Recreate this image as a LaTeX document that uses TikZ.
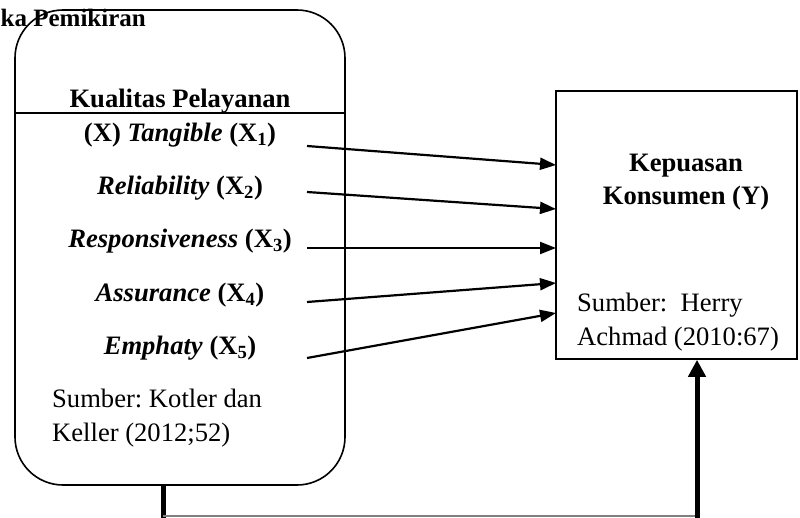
\documentclass[tikz,border=0pt]{standalone}
\usepackage{fontspec}
\setmainfont{Liberation Serif}
\usetikzlibrary{arrows.meta}
\frenchspacing
\begin{document}
\begin{tikzpicture}[x=1pt,y=-1pt,
  txt/.style={inner sep=0pt, font=\fontsize{26.6}{32}\selectfont},
  btxt/.style={txt, font=\fontsize{26.6}{32}\selectfont\bfseries},
  arr/.style={line width=2.2pt, -{Triangle[length=16pt,width=12pt]}},
  heavy/.style={line width=5pt},
  boxline/.style={draw, line width=1.6pt}]
\useasboundingbox (0,0) rectangle (800,518);
% left rounded box
\node[boxline, rounded corners=48pt, minimum width=330pt, minimum height=475pt, inner sep=0pt] (kq) at (180,247.5) {};
\draw[line width=1.6pt] (kq.west |- 0,113) -- (kq.east |- 0,113);
% right box
\node[boxline, minimum width=241pt, minimum height=268pt, inner sep=0pt] (ky) at (676.5,225) {};
% title
\node[btxt, anchor=base west, font=\fontsize{25}{30}\selectfont\bfseries] (title) at (0.5,27) {ka Pemikiran};
% left texts
\node[btxt, anchor=base] (hd) at (180,108) {Kualitas Pelayanan};
\node[btxt, anchor=base] (x1) at (180,142) {(X) \textit{Tangible} (X\textsubscript{1})};
\node[btxt, anchor=base] (x2) at (180,195) {\textit{Reliability} (X\textsubscript{2})};
\node[btxt, anchor=base] (x3) at (180,248) {\textit{Responsiveness} (X\textsubscript{3})};
\node[btxt, anchor=base] (x4) at (180,302) {\textit{Assurance} (X\textsubscript{4})};
\node[btxt, anchor=base] (x5) at (180,355) {\textit{Emphaty} (X\textsubscript{5})};
\node[txt, anchor=base west] (s1) at (52,407) {Sumber: Kotler dan};
\node[txt, anchor=base west] (s2) at (52,441) {Keller (2012;52)};
% right texts
\node[btxt, anchor=base] (y1) at (686,172) {Kepuasan};
\node[btxt, anchor=base] (y2) at (686,205) {Konsumen (Y)};
\node[txt, anchor=base west] (r1) at (577,312) {Sumber:\ \ Herry};
\node[txt, anchor=base west] (r2) at (577,345) {Achmad (2010:67)};
% arrow coordinates
\coordinate (a1) at (307,146);
\coordinate (a2) at (307,192);
\coordinate (a3) at (307,248);
\coordinate (a4) at (307,302);
\coordinate (a5) at (307,358);
\coordinate (e1) at (556,165);
\coordinate (e2) at (556,209);
\coordinate (e3) at (556,248);
\coordinate (e4) at (556,283);
\coordinate (e5) at (556,313);
\draw[arr] (a1) -- (e1);
\draw[arr] (a2) -- (e2);
\draw[arr] (a3) -- (e3);
\draw[arr] (a4) -- (e4);
\draw[arr] (a5) -- (e5);
% bottom connector
\coordinate (b1) at (163,516);
\coordinate (b2) at (697,516);
\draw[heavy] (kq.south -| b1) -- ([yshift=-1.5pt]b1);
\draw[line width=1.2pt, gray] (b1) -- (b2);
\draw[heavy, -{Triangle[length=17pt,width=17pt]}] ([yshift=-1.5pt]b2) -- (ky.south -| b2);
\end{tikzpicture}
\end{document}
